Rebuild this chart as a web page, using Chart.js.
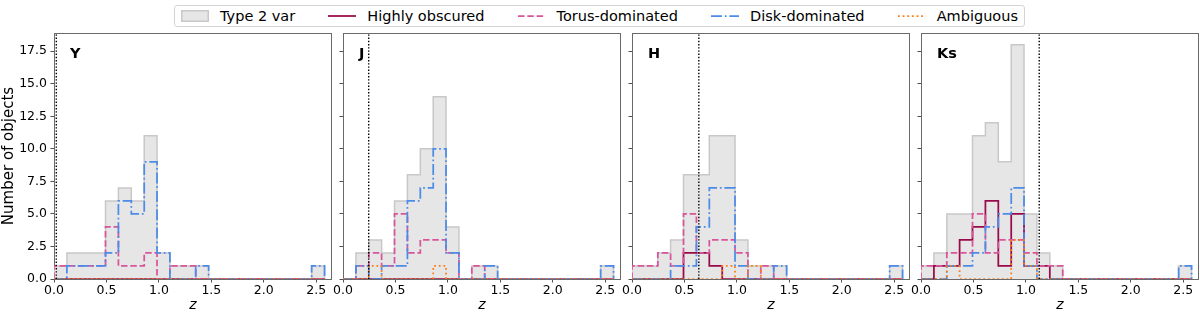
<!DOCTYPE html>
<html><head><meta charset="utf-8">
<script src="https://cdn.jsdelivr.net/npm/chart.js@4.4.1/dist/chart.umd.min.js"></script>
<style>
html,body{margin:0;padding:0;background:#fff;}
#wrap{position:relative;width:1200px;height:312px;overflow:hidden;font-family:"DejaVu Sans",sans-serif;}
#wrap > canvas{position:absolute;left:0;top:0;}
#legend{position:absolute;left:174px;top:5px;width:851px;height:22px;box-sizing:border-box;border:1px solid #d4d4d4;border-radius:3px;display:flex;align-items:center;justify-content:space-between;padding:0 6px;font-size:14.5px;color:#000;background:#fff;}
.item{display:flex;align-items:center;white-space:nowrap;}
.item svg{margin-right:11px;display:block;}
</style></head>
<body>
<div id="wrap">
  <canvas id="c0" width="1200" height="312"></canvas>
  <canvas id="c1" width="1200" height="312"></canvas>
  <canvas id="c2" width="1200" height="312"></canvas>
  <canvas id="c3" width="1200" height="312"></canvas>
  <div id="legend"></div>
</div>
<script>
// ---- data ----
const binEdges = [0.000,0.123,0.246,0.368,0.491,0.614,0.737,0.860,0.982,1.105,1.228,1.351,1.474,1.596,1.719,1.842,1.965,2.088,2.210,2.333,2.456,2.579];
const bands = ['Y','J','H','Ks'];
const zLimit = [0.022, 0.245, 0.637, 1.127];
const seriesNames = ['Type 2 var','Highly obscured','Torus-dominated','Disk-dominated','Ambiguous'];
const xTicks = [0.0,0.5,1.0,1.5,2.0,2.5];
const yTicks = [0.0,2.5,5.0,7.5,10.0,12.5,15.0,17.5];

const type2Y  = [1,2,2,2,6,7,6,11,2,1,1,1,0,0,0,0,0,0,0,0,1];
const highlyY = [0,0,0,0,0,0,0,0,0,0,0,0,0,0,0,0,0,0,0,0,0];
const torusY  = [1,1,1,1,4,1,1,2,0,1,1,0,0,0,0,0,0,0,0,0,0];
const diskY   = [0,1,1,1,2,6,5,9,2,0,0,1,0,0,0,0,0,0,0,0,1];
const ambigY  = [0,0,0,0,0,0,0,0,0,0,0,0,0,0,0,0,0,0,0,0,0];

const type2J  = [0,2,3,2,6,8,10,14,4,0,1,1,0,0,0,0,0,0,0,0,1];
const highlyJ = [0,0,0,0,0,0,0,0,0,0,0,0,0,0,0,0,0,0,0,0,0];
const torusJ  = [0,1,2,1,5,2,3,3,2,0,1,0,0,0,0,0,0,0,0,0,0];
const diskJ   = [0,1,0,1,1,6,7,10,2,0,0,1,0,0,0,0,0,0,0,0,1];
const ambigJ  = [0,0,1,0,0,0,0,1,0,0,0,0,0,0,0,0,0,0,0,0,0];

const type2H  = [1,1,2,3,8,8,11,11,3,1,1,1,0,0,0,0,0,0,0,0,1];
const highlyH = [0,0,0,0,2,2,1,0,0,0,0,0,0,0,0,0,0,0,0,0,0];
const torusH  = [1,1,2,1,5,2,3,3,2,0,1,0,0,0,0,0,0,0,0,0,0];
const diskH   = [0,0,0,1,1,4,7,7,1,0,0,1,0,0,0,0,0,0,0,0,1];
const ambigH  = [0,0,0,0,0,0,0,1,0,1,0,0,0,0,0,0,0,0,0,0,0];

const type2K  = [1,2,5,5,11,12,9,18,5,2,1,0,0,0,0,0,0,0,0,0,1];
const highlyK = [0,1,1,3,4,6,1,5,1,1,0,0,0,0,0,0,0,0,0,0,0];
const torusK  = [1,1,2,2,5,2,3,3,2,1,1,0,0,0,0,0,0,0,0,0,0];
const diskK   = [0,0,1,1,2,4,5,7,1,0,0,0,0,0,0,0,0,0,0,0,1];
const ambigK  = [0,0,1,0,0,0,0,3,1,0,0,0,0,0,0,0,0,0,0,0,0];

const panels = [
  [type2Y, highlyY, torusY, diskY, ambigY],
  [type2J, highlyJ, torusJ, diskJ, ambigJ],
  [type2H, highlyH, torusH, diskH, ambigH],
  [type2K, highlyK, torusK, diskK, ambigK]
];

// ---- styles ----
const FONT = "DejaVu Sans";
const LW = 1.75;
const styles = [
  {color:'#c8c8c8', fill:'#e6e6e6', dash:[], width:1.5},
  {color:'#990a4a', dash:[], width:LW},
  {color:'#d9559b', dash:[6.5,2.8], width:LW},
  {color:'#4d8be8', dash:[11,2.8,1.75,2.8], width:LW},
  {color:'#ff7b0f', dash:[1.75,2.9], width:LW}
];
const panelLefts = [54, 343, 632, 921];
const panelW = 278;

function stepPoints(counts){
  const pts = [{x: binEdges[0], y: 0}];
  counts.forEach((c,i)=>pts.push({x: binEdges[i], y: c}));
  pts.push({x: binEdges[counts.length], y: 0});
  return pts;
}

const framePlugin = {
  id:'frame',
  beforeDatasetsDraw(chart){
    const a = chart.chartArea, ctx = chart.ctx;
    ctx.save();
    ctx.strokeStyle = '#6a6a6a'; ctx.lineWidth = 1;
    ctx.strokeRect(Math.round(a.left)+0.5, Math.round(a.top)+0.5, Math.round(a.right-a.left)-1, Math.round(a.bottom-a.top));
    ctx.restore();
  },
  afterDraw(chart, args, opts){
    const a = chart.chartArea, ctx = chart.ctx;
    ctx.save();
    ctx.fillStyle = '#000';
    ctx.font = 'bold 14.5px "' + FONT + '"';
    ctx.textBaseline = 'alphabetic';
    ctx.fillText(opts.label, a.left + 16, a.top + 25);
    ctx.restore();
  }
};

panels.forEach((series, idx) => {
  const left = panelLefts[idx];
  const yW = idx === 0 ? 54 : 20;
  const datasets = series.map((counts, s) => ({
    label: seriesNames[s],
    data: stepPoints(counts),
    stepped: 'before',
    borderColor: styles[s].color,
    borderWidth: styles[s].width,
    borderDash: styles[s].dash,
    backgroundColor: styles[s].fill || 'transparent',
    fill: s === 0 ? 'origin' : false,
    pointRadius: 0,
    order: 5 - s
  }));
  datasets.push({
    label: 'limit',
    data: [{x: zLimit[idx], y: 0}, {x: zLimit[idx], y: 18.9}],
    borderColor: '#000', borderWidth: 1.4, borderDash: [1.4, 1.8],
    pointRadius: 0, fill: false, order: 0
  });
  new Chart(document.getElementById('c' + idx), {
    type: 'line',
    data: { datasets },
    options: {
      responsive: false, animation: false, events: [], devicePixelRatio: 1,
      layout: { padding: { left: left - yW, right: 1200 - left - panelW, top: 33, bottom: 0 } },
      plugins: { legend: { display: false }, tooltip: { enabled: false }, frame: { label: bands[idx] } },
      scales: {
        x: {
          type: 'linear', min: 0, max: 2.65,
          afterFit: s => { s.height = 33; },
          afterBuildTicks: s => { s.ticks = xTicks.map(v => ({value: v})); },
          ticks: { callback: v => Number(v).toFixed(1), font: { family: FONT, size: 12.5 }, color: '#000', padding: 1, maxRotation: 0, autoSkip: false },
          grid: { drawOnChartArea: false, drawTicks: true, tickLength: 3.5, color: '#222', lineWidth: 0.8 },
          border: { display: false },
          title: { display: true, text: 'z', font: { family: FONT, size: 14, style: 'italic' }, color: '#000', padding: { top: 0, bottom: -2 } }
        },
        y: {
          type: 'linear', min: 0, max: 18.9,
          afterFit: s => { s.width = yW; },
          afterBuildTicks: s => { s.ticks = yTicks.map(v => ({value: v})); },
          ticks: { display: idx === 0, callback: v => Number(v).toFixed(1), font: { family: FONT, size: 12.5 }, color: '#000', padding: 3.5 },
          grid: { drawOnChartArea: false, drawTicks: true, tickLength: 3.5, color: '#222', lineWidth: 0.8 },
          border: { display: false },
          title: { display: idx === 0, text: 'Number of objects', font: { family: FONT, size: 15 }, color: '#000', padding: { top: 0, bottom: 0 } }
        }
      }
    },
    plugins: [framePlugin]
  });
});

// ---- legend (HTML) ----
const legend = document.getElementById('legend');
seriesNames.forEach((name, s) => {
  const st = styles[s];
  const item = document.createElement('div');
  item.className = 'item';
  let svg;
  if (s === 0) {
    svg = `<svg width="28" height="14"><rect x="0.75" y="1.75" width="26.5" height="10.5" fill="${st.fill}" stroke="${st.color}" stroke-width="1.5"/></svg>`;
  } else {
    svg = `<svg width="28" height="14"><line x1="0" y1="7" x2="28" y2="7" stroke="${st.color}" stroke-width="${st.width}" ${st.dash.length ? 'stroke-dasharray="' + st.dash.join(',') + '"' : ''}/></svg>`;
  }
  item.innerHTML = svg + '<span>' + name + '</span>';
  legend.appendChild(item);
});
</script>
</body></html>
